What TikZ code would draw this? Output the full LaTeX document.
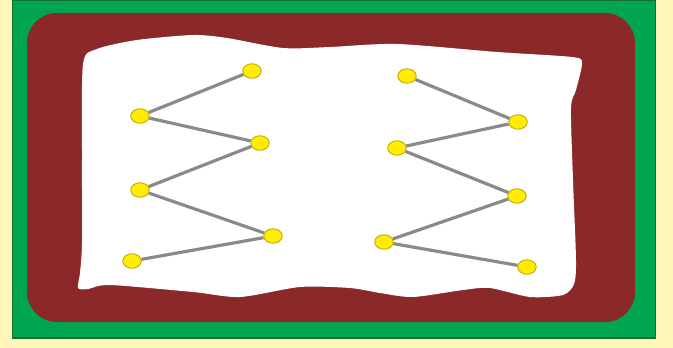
\documentclass[tikz,border=0pt]{standalone}
\usepackage{tikz}
\usetikzlibrary{shapes.geometric,positioning}
\definecolor{paleyellow}{RGB}{255,246,184}
\definecolor{framegreen}{RGB}{0,165,80}
\definecolor{darkgreen}{RGB}{20,110,50}
\definecolor{wine}{RGB}{138,40,42}
\definecolor{dotyellow}{RGB}{255,236,0}
\definecolor{dotedge}{RGB}{190,170,0}
\definecolor{linkgray}{RGB}{138,138,138}

\begin{document}
\begin{tikzpicture}[
    x=0.02cm, y=-0.02cm,
    dot/.style={ellipse, draw=dotedge, fill=dotyellow, line width=0.5pt, minimum width=0.37cm, minimum height=0.29cm, inner sep=0pt},
    link/.style={draw=linkgray, line width=1.8pt}
]
\useasboundingbox (0,0) rectangle (673,348);
\fill[paleyellow] (0,0) rectangle (673,348);

% Frame
\filldraw[fill=framegreen, draw=darkgreen, line width=0.8pt] (12.5,0.5) rectangle (655.5,338);
\fill[wine, rounded corners=0.6cm] (27,13) rectangle (635,322);

% Sheet
\fill[white] plot[smooth cycle, tension=0.45] coordinates {
    (83,64) (97,49) (137,40) (193,35) (227,38) (283,48) (330,47) (397,44)
    (497,52) (572,57) (582,63) (576,90) (571,108) (573,180) (576,260)
    (574,284) (563,295) (530,297) (490,288) (463,290) (413,297) (380,293)
    (350,288) (300,287) (240,297) (193,292) (110,285) (88,289) (78,288)
    (80,273) (82,243) (82,160)};

% Left chain
\node[dot] (a1) at (252,71) {};
\node[dot] (a2) at (140,116) {};
\node[dot] (a3) at (260,143) {};
\node[dot] (a4) at (140,190) {};
\node[dot] (a5) at (273,236) {};
\node[dot] (a6) at (132,261) {};

% Right chain
\node[dot] (b1) at (407,76) {};
\node[dot] (b2) at (518,122) {};
\node[dot] (b3) at (397,148) {};
\node[dot] (b4) at (517,196) {};
\node[dot] (b5) at (384,242) {};
\node[dot] (b6) at (527,267) {};

% Links
\draw[link] (a1) -- (a2);
\draw[link] (a2) -- (a3);
\draw[link] (a3) -- (a4);
\draw[link] (a4) -- (a5);
\draw[link] (a5) -- (a6);
\draw[link] (b1) -- (b2);
\draw[link] (b2) -- (b3);
\draw[link] (b3) -- (b4);
\draw[link] (b4) -- (b5);
\draw[link] (b5) -- (b6);

\end{tikzpicture}
\end{document}
